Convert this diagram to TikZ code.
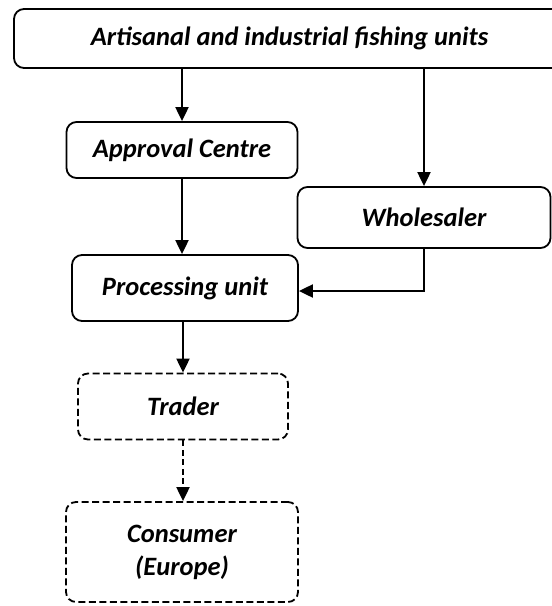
\documentclass[tikz,border=0pt]{standalone}
\usepackage{fontspec}
\setmainfont{Carlito}
\usetikzlibrary{arrows.meta}

\tikzset{
  box/.style={draw, line width=1.8pt, rounded corners=10pt, align=center,
              inner sep=0pt, font=\bfseries\itshape\fontsize{26.5}{33}\selectfont},
  dbox/.style={box, dash pattern=on 7pt off 3.5pt},
  arr/.style={line width=2pt, -{Triangle[length=14pt,width=13pt]}},
  darr/.style={arr, dash pattern=on 6pt off 3.5pt}
}

\begin{document}
\begin{tikzpicture}[x=1pt, y=-1pt]
    \useasboundingbox (0,0) rectangle (552,606);
    % boxes
    \node[box, minimum width=551pt, minimum height=59pt] (fish) at (289.5,38.5)
      {Artisanal and industrial fishing units};
    \node[box, minimum width=231pt, minimum height=56pt] (appr) at (182,150)
      {Approval Centre};
    \node[box, minimum width=253pt, minimum height=61pt] (whol) at (424,217.5)
      {Wholesaler};
    \node[box, minimum width=226pt, minimum height=66pt] (proc) at (185,288)
      {Processing unit};
    \node[dbox, minimum width=210pt, minimum height=66pt] (trad) at (183,406.5)
      {Trader};
    \node[dbox, minimum width=232pt, minimum height=100pt] (cons) at (182,552)
      {Consumer\\(Europe)};
    % connectors
    \draw[arr] (appr.north |- fish.south) -- (appr.north);
    \draw[arr] (whol.north |- fish.south) -- (whol.north);
    \draw[arr] (appr.south) -- (appr.south |- proc.north);
    \draw[arr] (whol.south) |- ([yshift=-3pt]proc.east);
    \draw[arr] (proc.south -| trad.north) -- (trad.north);
    \draw[darr] (trad.south) -- (trad.south |- cons.north);
\end{tikzpicture}
\end{document}
